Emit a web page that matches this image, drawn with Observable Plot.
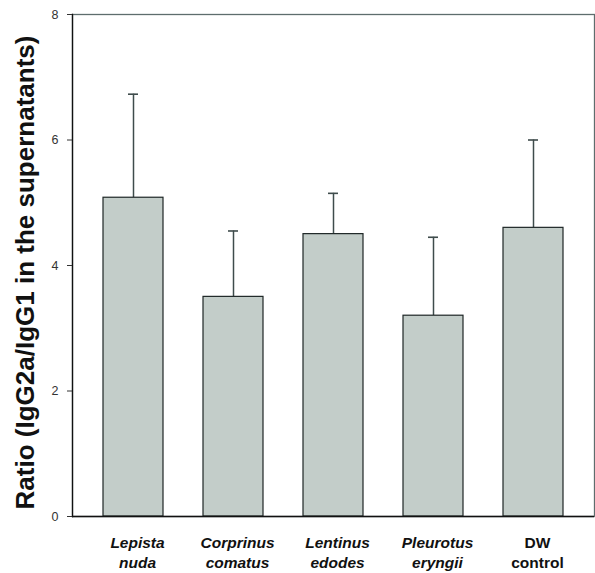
<!DOCTYPE html>
<html>
<head>
<meta charset="utf-8">
<script src="https://cdn.jsdelivr.net/npm/d3@7"></script>
<script src="https://cdn.jsdelivr.net/npm/@observablehq/plot@0.6"></script>
<style>
  html, body { margin: 0; padding: 0; background: #fff; }
</style>
</head>
<body>
<div id="chart"></div>
<script>
const categories = ["Lepista nuda", "Corprinus comatus", "Lentinus edodes", "Pleurotus eryngii", "DW control"];
const labelLine1 = ["Lepista", "Corprinus", "Lentinus", "Pleurotus", "DW"];
const labelLine2 = ["nuda", "comatus", "edodes", "eryngii", "control"];
const italicLabel = [true, true, true, true, false];
const means = [5.08, 3.50, 4.50, 3.20, 4.60];
const upper = [6.73, 4.55, 5.15, 4.45, 6.00];
const yTicks = [0, 2, 4, 6, 8];
const yLabel = "Ratio (IgG2a/IgG1 in the supernatants)";

const data = categories.map((c, i) => ({
  name: c, mean: means[i], upper: upper[i],
  label: labelLine1[i] + "\n" + labelLine2[i], italic: italicLabel[i]
}));

const chart = Plot.plot({
  width: 595,
  height: 573,
  marginLeft: 72,
  marginRight: 1,
  marginTop: 14,
  marginBottom: 57,
  style: {fontFamily: "'Liberation Sans', Arial, sans-serif", background: "#fff"},
  x: {domain: categories, paddingInner: 0.4, paddingOuter: 0.3, axis: null},
  y: {domain: [0, 8], axis: null},
  marks: [
    Plot.frame({stroke: "#5e6d6d", strokeWidth: 1.3}),
    Plot.ruleX(data, {x: "name", y1: "mean", y2: "upper", stroke: "#3f4c4c", strokeWidth: 1.5}),
    Plot.tickY(data, {x: "name", y: "upper", stroke: "#3f4c4c", strokeWidth: 1.6, insetLeft: 25, insetRight: 25}),
    Plot.barY(data, {x: "name", y: "mean", fill: "#c3cdc9", stroke: "#1e2626", strokeWidth: 1.2}),
    Plot.ruleY([0], {stroke: "#111", strokeWidth: 1.3}),
    Plot.frame({anchor: "left", stroke: "#111", strokeWidth: 1.3}),
    Plot.axisY({ticks: yTicks, tickSize: 5, tickPadding: 9, fontSize: 12.5, color: "#333", tickFormat: d3.format("d"), label: null}),
    Plot.text(data.filter(d => d.italic), {x: "name", y: 0, text: "label", lineAnchor: "top", dy: 17, dx: 4, fontSize: 15.5, fontWeight: "bold", fontStyle: "italic", lineHeight: 1.3, fill: "#111"}),
    Plot.text(data.filter(d => !d.italic), {x: "name", y: 0, text: "label", lineAnchor: "top", dy: 17, dx: 4, fontSize: 15.5, fontWeight: "bold", lineHeight: 1.3, fill: "#111"}),
    Plot.text([yLabel], {frameAnchor: "left", textAnchor: "middle", rotate: -90, dx: -47, dy: 7, fontSize: 26, fontWeight: "bold", fill: "#111"})
  ]
});
document.getElementById("chart").appendChild(chart);
</script>
</body>
</html>
